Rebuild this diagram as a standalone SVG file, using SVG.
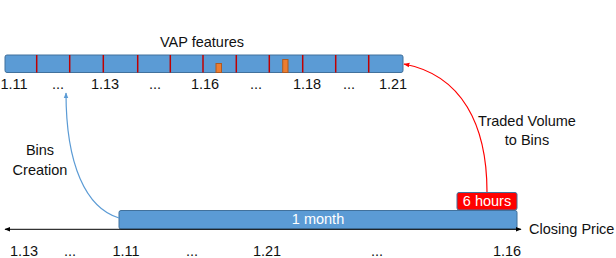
<svg xmlns="http://www.w3.org/2000/svg" width="616" height="258" viewBox="0 0 616 258">
<style>
text{font-family:"Liberation Sans",Arial,sans-serif;font-size:14.5px;fill:#111;}
.c{text-anchor:middle;}
.w{fill:#fff;}
.bar{fill:#5b9bd5;stroke:#41719c;stroke-width:1;}
.tick{stroke:#c00000;stroke-width:1.5;}
.ob{fill:#ed7d31;stroke:#ae5a21;stroke-width:1;}
</style>
<defs>
<marker id="ab" viewBox="0 0 10 10" refX="9" refY="5" markerWidth="6" markerHeight="6" orient="auto-start-reverse" markerUnits="userSpaceOnUse"><path d="M0,1 L10,5 L0,9 z" fill="#5b9bd5"/></marker>
<marker id="ar" viewBox="0 0 10 10" refX="9" refY="5" markerWidth="6" markerHeight="6" orient="auto" markerUnits="userSpaceOnUse"><path d="M0,1 L10,5 L0,9 z" fill="#f00"/></marker>
<marker id="ak" viewBox="0 0 10 10" refX="9" refY="5" markerWidth="6" markerHeight="6" orient="auto-start-reverse" markerUnits="userSpaceOnUse"><path d="M0,1 L10,5 L0,9 z" fill="#000"/></marker>
</defs>

<g id="vap">
<text class="c" x="202" y="47">VAP features</text>
<rect class="bar" x="5" y="55" width="398" height="17.5" rx="2"/>
<line class="tick" x1="36.7" y1="55" x2="36.7" y2="72.5"/>
<line class="tick" x1="69.7" y1="55" x2="69.7" y2="72.5"/>
<line class="tick" x1="103.3" y1="55" x2="103.3" y2="72.5"/>
<line class="tick" x1="137.7" y1="55" x2="137.7" y2="72.5"/>
<line class="tick" x1="170.3" y1="55" x2="170.3" y2="72.5"/>
<line class="tick" x1="203" y1="55" x2="203" y2="72.5"/>
<line class="tick" x1="236.3" y1="55" x2="236.3" y2="72.5"/>
<line class="tick" x1="269.3" y1="55" x2="269.3" y2="72.5"/>
<line class="tick" x1="302.7" y1="55" x2="302.7" y2="72.5"/>
<line class="tick" x1="335.7" y1="55" x2="335.7" y2="72.5"/>
<line class="tick" x1="368.7" y1="55" x2="368.7" y2="72.5"/>
<rect class="ob" x="216" y="63.5" width="5.5" height="9"/>
<rect class="ob" x="282.7" y="59.5" width="5.3" height="13"/>
<text class="c" x="14" y="89">1.11</text>
<text class="c" x="58" y="89">...</text>
<text class="c" x="105" y="89">1.13</text>
<text class="c" x="155" y="89">...</text>
<text class="c" x="205" y="89">1.16</text>
<text class="c" x="256" y="89">...</text>
<text class="c" x="307" y="89">1.18</text>
<text class="c" x="349" y="89">...</text>
<text class="c" x="393" y="89">1.21</text>
</g>

<g id="month">
<rect class="bar" x="119" y="210.5" width="398" height="18.5" rx="2"/>
<text class="c w" x="318" y="224">1 month</text>
</g>

<g id="hours">
<rect x="457" y="192.5" width="60" height="17.5" rx="2" fill="#f00" stroke="#41719c" stroke-width="1"/>
<text class="c w" x="487" y="206">6 hours</text>
</g>

<g id="axis-labels">
<text x="529" y="234">Closing Price</text>
<text class="c" x="24" y="256">1.13</text>
<text class="c" x="70" y="256">...</text>
<text class="c" x="126" y="256">1.11</text>
<text class="c" x="192" y="256">...</text>
<text class="c" x="267" y="256">1.21</text>
<text class="c" x="377" y="256">...</text>
<text class="c" x="507" y="256">1.16</text>
</g>

<g id="labels">
<text class="c" x="40" y="155">Bins</text>
<text class="c" x="40" y="175">Creation</text>
<text class="c" x="527" y="126">Traded Volume</text>
<text class="c" x="527" y="145">to Bins</text>
</g>

<g id="connectors" fill="none">
<line x1="5" y1="229.3" x2="521" y2="229.3" stroke="#000" stroke-width="1" marker-start="url(#ak)" marker-end="url(#ak)"/>
<path d="M119,218 C86,208 66,165 66,93" stroke="#5b9bd5" stroke-width="1.2" marker-end="url(#ab)"/>
<path d="M487,192 C487,125 462,75 404,64" stroke="#f00" stroke-width="1.2" marker-end="url(#ar)"/>
</g>
</svg>
